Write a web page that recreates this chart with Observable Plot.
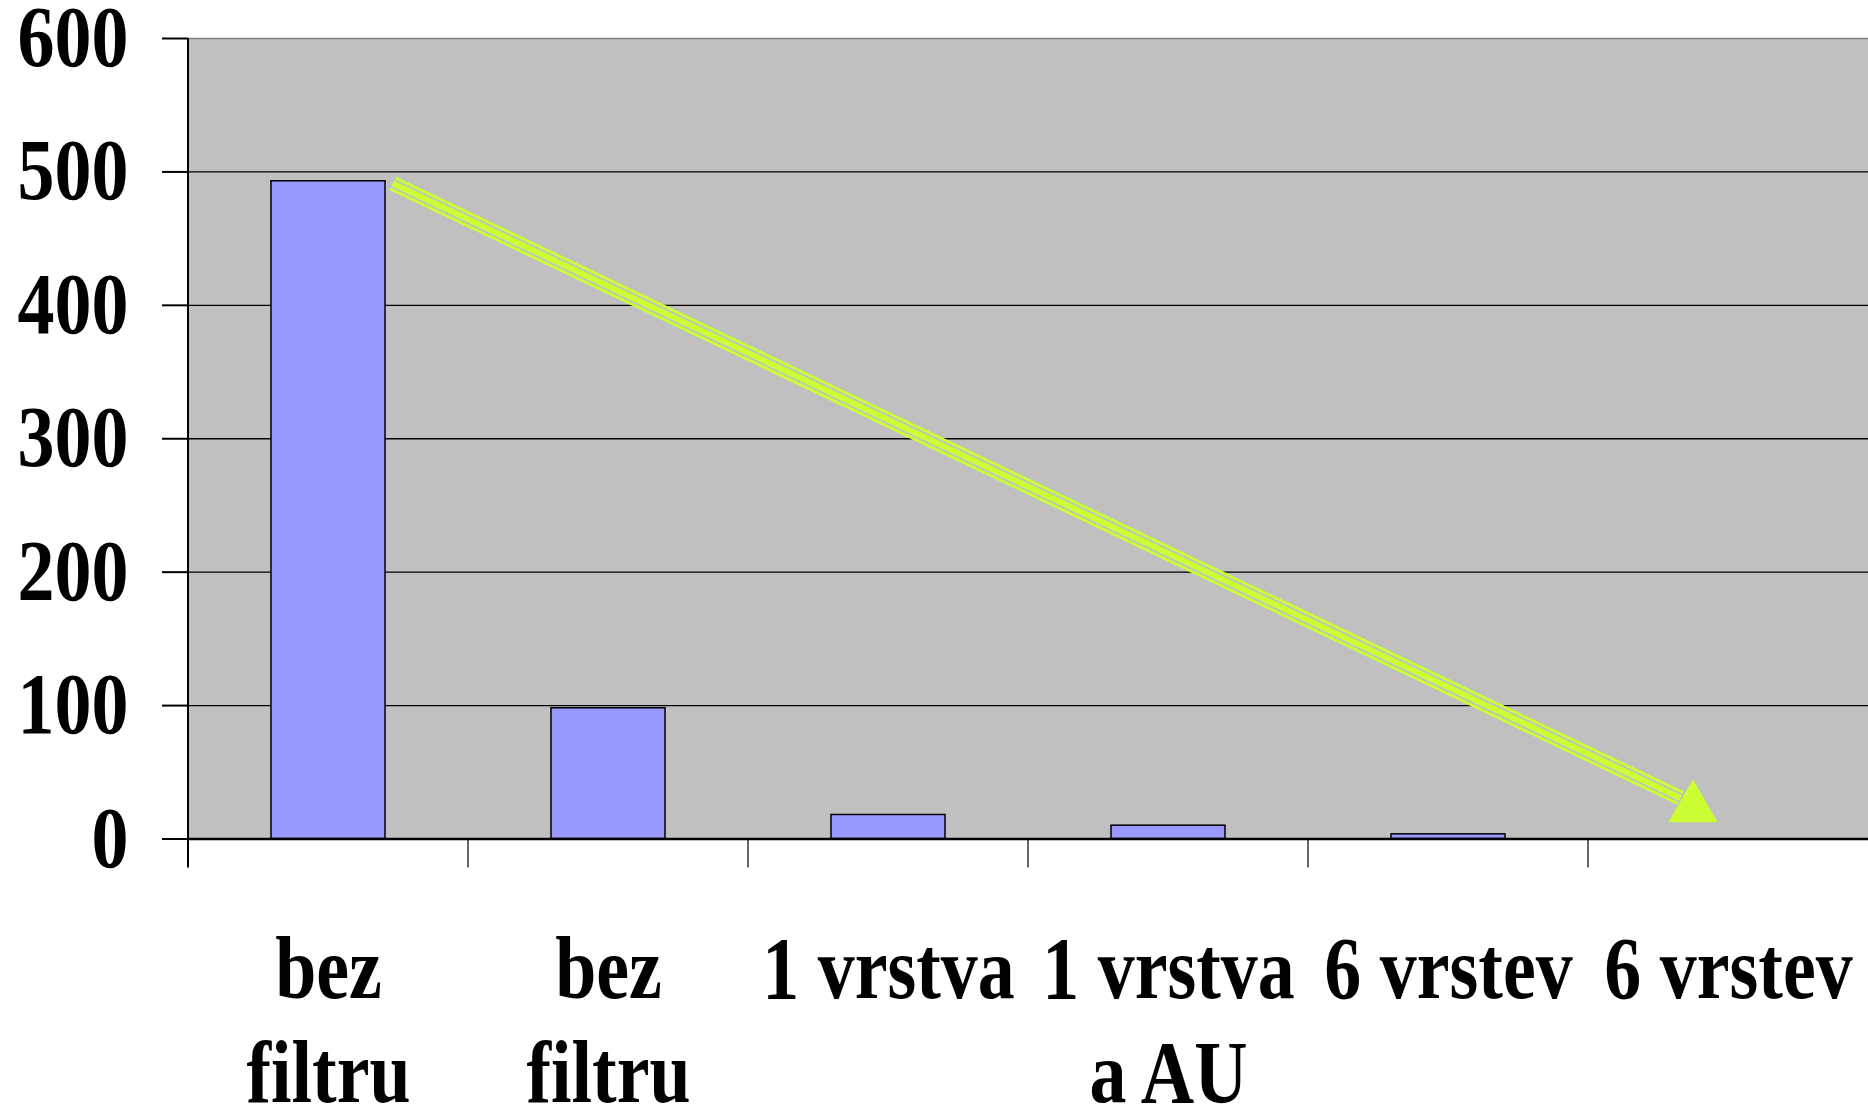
<!DOCTYPE html>
<html><head><meta charset="utf-8">
<script src="https://cdn.jsdelivr.net/npm/d3@7"></script>
<script src="https://cdn.jsdelivr.net/npm/@observablehq/plot@0.6"></script>
<style>
body{margin:0;background:#fff;}
#chart svg{display:block;font-family:"Liberation Serif","Times New Roman",serif;}
</style>
</head><body><div id="chart"></div>
<script>
// ---- data ----
const categoryKeys = ["c1", "c2", "c3", "c4", "c5", "c6"];
const categoryLabels = ["bez\nfiltru", "bez\nfiltru", "1 vrstva", "1 vrstva\na AU", "6 vrstev", "6 vrstev"];
const values = [493, 98, 18, 10, 3.5, 0];
const yTicks = [0, 100, 200, 300, 400, 500, 600];
const gridLines = [100, 200, 300, 400, 500];
// arrow annotation, in data terms: category index, fraction across that band, value
const arrowStart = {cat: 0, frac: 0.732, value: 491};
const arrowEnd = {cat: 5, frac: 0.33, value: 30.4};
const arrowHead = {cat: 5, frac: 0.375, value: 22.9};

const data = categoryKeys.map((k, i) => ({key: k, label: categoryLabels[i], value: values[i]}));
const labelOf = new Map(categoryKeys.map((k, i) => [k, categoryLabels[i]]));

function boundaryTicks(index, scales) {
  const x = scales.x, y = scales.y;
  const g = d3.create("svg:g");
  const y0 = y(0);
  categoryKeys.forEach((k, i) => {
    g.append("line")
      .attr("x1", x(k)).attr("x2", x(k))
      .attr("y1", i === 0 ? y(600) : y0)
      .attr("y2", y0 + 29)
      .attr("stroke", "black")
      .attr("stroke-width", i === 0 ? 2 : 1.2);
  });
  return g.node();
}

function arrowMark(index, scales) {
  const x = scales.x, y = scales.y;
  const bw = x.bandwidth();
  const px = p => x(categoryKeys[p.cat]) + p.frac * bw;
  const py = p => y(p.value);
  const g = d3.create("svg:g");
  const seg = [[px(arrowStart), py(arrowStart)], [px(arrowEnd), py(arrowEnd)]];
  [[15, "#ccff33"], [9.5, "#c0c0c0"], [6, "#ccff33"]].forEach(([w, c]) => {
    g.append("line")
      .attr("x1", seg[0][0]).attr("y1", seg[0][1])
      .attr("x2", seg[1][0]).attr("y2", seg[1][1])
      .attr("stroke", c).attr("stroke-width", w).attr("stroke-linecap", "butt");
  });
  g.append("path")
    .attr("d", d3.symbol(d3.symbolTriangle, 1050)())
    .attr("transform", `translate(${px(arrowHead)},${py(arrowHead)})`)
    .attr("fill", "#ccff33");
  return g.node();
}

const chart = Plot.plot({
  width: 1868,
  height: 1105,
  marginLeft: 188,
  marginRight: 0,
  marginTop: 38,
  marginBottom: 266.5,
  style: {fontFamily: "'Liberation Serif','Times New Roman',serif", background: "white"},
  x: {domain: categoryKeys, padding: 0, axis: null},
  y: {domain: [0, 600], axis: null},
  marks: [
    Plot.frame({fill: "#c0c0c0", stroke: null}),
    Plot.ruleY(gridLines, {stroke: "black", strokeWidth: 1.3}),
    Plot.ruleY([600], {stroke: "#808080", strokeWidth: 1.5}),
    Plot.barY(data, {x: "key", y: "value", fill: "#9999ff", stroke: "black", strokeWidth: 1.5, insetLeft: 83, insetRight: 83}),
    Plot.ruleY([0], {stroke: "black", strokeWidth: 2.5}),
    Plot.axisY({ticks: yTicks, tickSize: 26, tickPadding: 34, tickFormat: d => String(d), fontSize: 86, fontWeight: "bold", stroke: "black", strokeWidth: 2, fill: "black", label: null}),
    Plot.axisX({tickSize: 0, tickPadding: 85, tickFormat: k => labelOf.get(k), fontSize: 88, fontWeight: "bold", lineHeight: 1.18, fill: "black", label: null}),
    boundaryTicks,
    arrowMark
  ]
});

// condense the tick label glyphs horizontally, as in the reference (tall, narrow bold serif)
function condense(selector, k) {
  d3.select(chart).selectAll(selector).each(function() {
    const t = this.getAttribute("transform");
    if (t) {
      this.setAttribute("transform", t + ` scale(${k},1)`);
    } else {
      const x = +this.getAttribute("x") || 0, y = +this.getAttribute("y") || 0;
      this.removeAttribute("x"); this.removeAttribute("y");
      this.setAttribute("transform", `translate(${x},${y}) scale(${k},1)`);
    }
  });
}
condense("g[aria-label='x-axis tick label'] text", 0.84);
condense("g[aria-label='y-axis tick label'] text", 0.86);

document.getElementById("chart").appendChild(chart);
</script>
</body></html>
